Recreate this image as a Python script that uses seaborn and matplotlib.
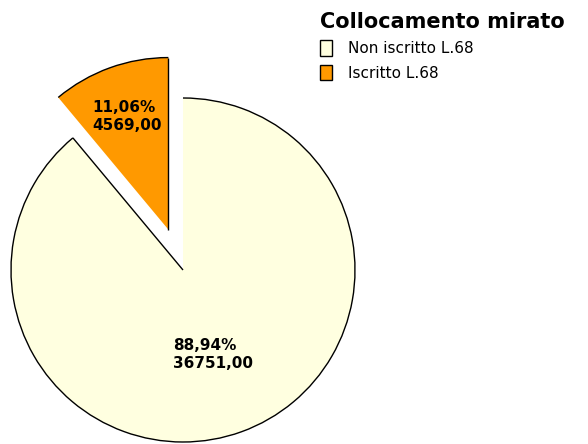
import matplotlib
matplotlib.use("Agg")
import matplotlib.pyplot as plt
import seaborn as sns
import numpy as np
from matplotlib.patches import Arc, Patch

sns.set_theme(style="white")
plt.rcParams['font.family'] = ['DejaVu Sans']
plt.rcParams['text.color'] = 'black'

# Data
categories = ["Non iscritto L.68", "Iscritto L.68"]
values = [36751.00, 4569.00]
legend_title = "Collocamento mirato"
colors = ["#FFFFE0", "#FF9900"]

W, H = 588, 444
fig = plt.figure(figsize=(W / 100, H / 100), dpi=100)
fig.patch.set_facecolor("white")
ax = fig.add_axes([0, 0, 1, 1])

R = 172.0
cx, cy = 183.0, 270.0
wedges, _ = ax.pie(values, colors=colors, startangle=90, counterclock=False,
                   explode=[0, 0.25], radius=1,
                   wedgeprops=dict(linewidth=0, edgecolor="none"))

ax.set_xlim(-cx / R, (W - cx) / R)
ax.set_ylim(-(H - cy) / R, cy / R)
ax.set_aspect("auto")
ax.axis("off")

# outlines: arc plus the radial edge at theta1 (as in the original rendering)
for w in wedges:
    c = w.center
    r = w.r
    arc = Arc(c, 2 * r, 2 * r, theta1=w.theta1, theta2=w.theta2,
              color="black", lw=1.0, zorder=5)
    ax.add_patch(arc)
    t = np.deg2rad(w.theta1)
    ax.plot([c[0], c[0] + r * np.cos(t)], [c[1], c[1] + r * np.sin(t)],
            color="black", lw=1.0, zorder=5, solid_capstyle="butt")

# labels
total = sum(values)
dists = [0.52, 0.70]
for w, v, d in zip(wedges, values, dists):
    mid = np.deg2rad((w.theta1 + w.theta2) / 2)
    c = w.center
    pct = v / total * 100
    txt = f"{pct:.2f}%".replace(".", ",") + "\n" + f"{v:.2f}".replace(".", ",")
    ax.text(c[0] + d * np.cos(mid), c[1] + d * np.sin(mid), txt,
            ha="center", va="center", multialignment="left",
            fontsize=11, fontweight="bold", color="black", zorder=6,
            linespacing=1.25)

handles = [Patch(facecolor=col, edgecolor="black", linewidth=1.0) for col in colors]
leg = fig.legend(handles, categories, title=legend_title, loc="upper left",
                 bbox_to_anchor=(320 / W, 1 - 12 / H), frameon=False,
                 fontsize=11, alignment="left", borderpad=0,
                 handlelength=0.8, handleheight=1.2, handletextpad=1.05,
                 labelspacing=0.55, borderaxespad=0)
leg.get_title().set_fontweight("bold")
leg.get_title().set_fontsize(15)
leg.get_title().set_color("black")
for t in leg.get_texts():
    t.set_color("black")

fig.savefig("out.png", dpi=100, facecolor="white")
